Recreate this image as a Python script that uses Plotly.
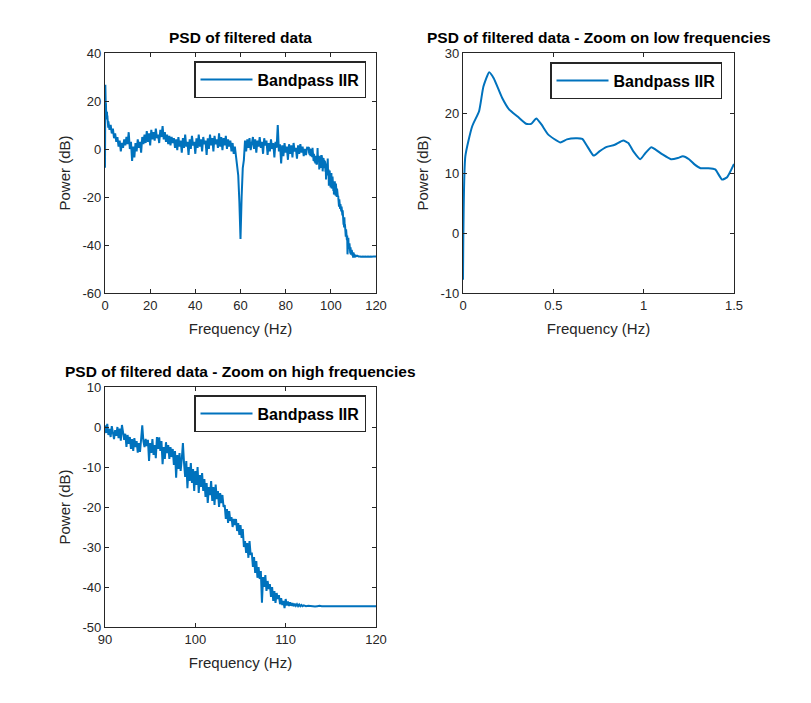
import numpy as np
import plotly.graph_objects as go

# PSD of the band-pass (IIR) filtered signal

# 0 - 1.5 Hz (fine resolution, used for the low-frequency zoom)
low_freq = [0.0, 0.013, 0.051, 0.089, 0.113, 0.145, 0.170, 0.217, 0.255, 0.302,
            0.349, 0.377, 0.406, 0.434, 0.472, 0.538, 0.575, 0.623, 0.660, 0.689,
            0.723, 0.755, 0.792, 0.840, 0.887, 0.915, 0.943, 0.981, 1.009, 1.042,
            1.066, 1.104, 1.151, 1.189, 1.217, 1.251, 1.283, 1.315, 1.358, 1.396,
            1.434, 1.462, 1.500]
low_power = [-7.8, 12.8, 17.8, 20.3, 24.4, 26.8, 25.8, 22.5, 20.6, 19.4,
             18.2, 18.2, 19.1, 18.1, 16.4, 15.1, 15.6, 15.8, 15.7, 14.4,
             12.9, 13.6, 14.3, 14.7, 15.4, 15.0, 13.6, 12.3, 13.3, 14.3,
             13.9, 13.1, 12.3, 12.5, 12.8, 12.3, 11.4, 10.8, 10.8, 10.6,
             8.9, 9.3, 11.5]

# 2 - 89.5 Hz, 0.5 Hz bins
mid_start, mid_step = 2.0, 0.5
mid_power = [
    8.0, 10.0, 6.5, 8.5, 4.5, 6.5, 3.0, 5.0, 1.0, 3.5,            # 2.0 - 6.5
    -1.0, 2.5, 0.5, 4.0, 1.5, 5.0, 2.0, 7.0, 0.0, 3.0,            # 7.0 - 11.5
    -5.0, 1.0, -3.5, 2.5, -1.0, 4.0, 0.5, 3.0, -1.5, 5.0,         # 12.0 - 16.5
    2.0, 6.0, 2.5, 7.5, 3.0, 6.5, 1.5, 8.0, 4.0, 7.0,             # 17.0 - 21.5
    3.5, 8.5, 4.5, 6.0, 2.5, 8.0, 5.0, 9.5, 4.0, 7.0,             # 22.0 - 26.5
    3.0, 6.0, 2.0, 5.5, 1.5, 5.0, 2.5, 4.5, 0.5, 4.0,             # 27.0 - 31.5
    -0.5, 5.0, 1.0, 3.5, -1.5, 4.5, 0.5, 6.0, 1.0, 3.0,           # 32.0 - 36.5
    -2.5, 4.0, 0.0, 5.5, 1.5, 3.0, -2.0, 4.5, 0.5, 6.0,           # 37.0 - 41.5
    1.0, 4.0, -1.0, 5.0, 2.0, 3.5, -2.5, 4.5, 0.0, 6.0,           # 42.0 - 46.5
    1.5, 4.5, -1.0, 5.5, 2.0, 4.0, 0.5, 6.5, 1.0, 5.0,            # 47.0 - 51.5
    -0.5, 4.5, 1.5, 5.5, 0.0, 4.0, 1.0, 3.5, -1.0, 2.5,           # 52.0 - 56.5
    -2.0, 1.0, -3.0, -6.0, -11.0, -22.0, -37.5, -20.0, -8.0, -4.5,  # 57.0 - 61.5
    3.5, -1.0, 4.0, 0.5, 4.5, -0.5, 3.0, 5.0, 0.0, 4.0,           # 62.0 - 66.5
    -1.5, 3.5, 1.0, 5.0, 0.5, 3.0, -2.0, 4.5, 1.5, 3.5,           # 67.0 - 71.5
    -2.5, 2.5, -1.0, 4.0, 0.0, 2.5, -3.5, 3.0, 0.5, 10.0,         # 72.0 - 76.5
    -1.0, 2.0, -6.0, 1.5, -3.0, 2.5, -1.5, 1.0, -4.5, 2.0,        # 77.0 - 81.5
    -2.0, 1.5, -3.5, 2.5, -1.0, 0.5, -4.0, 1.5, -2.0, 2.0,        # 82.0 - 86.5
    -1.5, 1.0, -3.0, 0.0, -2.5, 0.5,                              # 87.0 - 89.5
]

# 90 - 112 Hz, 0.125 Hz bins (one row per Hz)
high_start, high_step = 90.0, 0.125
high_power = [
    0.4, -1.5, 0.8, -2.0, -0.5, -2.5, 0.2, -1.2,            # 90
    -3.0, -0.8, -2.2, 0.0, -2.8, -0.4, -3.4, 0.5,           # 91
    -1.8, -3.2, -1.7, -5.0, -2.0, -4.2, -2.5, -5.5,         # 92
    -3.0, -6.0, -2.8, -5.0, -3.5, -6.4, -4.0, -6.2,         # 93
    -3.0, 0.4, -3.5, -5.0, -3.0, -4.8, -3.2, -8.5,          # 94
    -4.0, -6.5, -3.0, -7.0, -4.5, -7.8, -2.5, -5.5,         # 95
    -2.6, -6.0, -3.5, -9.3, -5.0, -8.0, -3.8, -6.5,         # 96
    -4.5, -8.0, -5.0, -7.5, -5.5, -9.5, -6.0, -12.7,        # 97
    -7.0, -10.5, -6.5, -11.0, -8.0, -4.0, -9.0, -12.5,      # 98
    -8.5, -15.3, -10.0, -13.5, -9.0, -14.0, -10.5, -16.0,   # 99
    -11.0, -14.5, -10.0, -16.5, -12.0, -15.0, -11.5, -16.0,  # 100
    -13.0, -17.5, -14.0, -19.0, -15.0, -17.0, -13.5, -18.5,  # 101
    -15.0, -19.5, -14.4, -18.0, -16.0, -20.0, -16.5, -19.0,  # 102
    -17.0, -20.0, -19.5, -23.0, -20.5, -24.0, -21.0, -23.5,  # 103
    -22.5, -25.0, -23.0, -24.5, -23.0, -26.0, -24.0, -27.0,  # 104
    -24.5, -27.7, -25.5, -30.0, -28.5, -31.5, -29.0, -32.7,  # 105
    -28.5, -32.0, -31.4, -35.0, -32.5, -36.5, -33.5, -37.7,  # 106
    -35.0, -38.0, -36.0, -43.9, -37.5, -40.0, -37.0, -41.0,  # 107
    -38.5, -40.5, -39.3, -42.5, -40.0, -43.5, -41.0, -44.0,  # 108
    -41.5, -43.0, -42.0, -44.3, -42.8, -44.5, -43.5, -45.3,  # 109
    -43.0, -44.6, -43.6, -44.75, -43.8, -44.7, -44.0, -44.8,  # 110
    -44.2, -44.7, -44.3, -44.8, -44.4, -44.8, -44.5, -44.8,  # 111
    -44.6,                                                   # 112
]

# 112.25 - 120 Hz, 0.25 Hz bins (stop band floor)
tail_start, tail_step = 112.25, 0.25
tail_power = [
    -44.8, -44.7, -44.8, -44.8, -44.9, -44.8, -44.7, -44.8,
    -44.8, -44.9, -44.8, -44.8, -44.8, -44.9, -44.8, -44.8,
    -44.8, -44.8, -44.9, -44.8, -44.8, -44.8, -44.8, -44.9,
    -44.8, -44.8, -44.8, -44.8, -44.8, -44.9, -44.8, -44.8,
]

mid_freq = mid_start + mid_step * np.arange(len(mid_power))
high_freq = np.concatenate([high_start + high_step * np.arange(len(high_power)),
                            tail_start + tail_step * np.arange(len(tail_power))])
high_power = high_power + tail_power

full_freq = np.concatenate([low_freq, mid_freq, high_freq])
full_power = np.concatenate([low_power, mid_power, high_power])

# ticks
ticks_full_x = [0, 20, 40, 60, 80, 100, 120]
ticks_full_y = [-60, -40, -20, 0, 20, 40]
ticks_low_x = [0, 0.5, 1, 1.5]
ticks_low_y = [-10, 0, 10, 20, 30]
ticks_high_x = [90, 100, 110, 120]
ticks_high_y = [-50, -40, -30, -20, -10, 0, 10]

blue = '#0072BD'
dark = '#262626'
font_family = 'Arial, Liberation Sans, Helvetica, sans-serif'

W, H = 811, 703
OFF = 8  # page body margin of the html output


def px_x(p):
    return (p - OFF) / W


def px_y(p):
    return 1 - (p - OFF) / H


fig = go.Figure()
fig.add_trace(go.Scatter(x=full_freq, y=full_power, mode='lines', name='Bandpass IIR',
                         line=dict(color=blue, width=2), xaxis='x', yaxis='y', legend='legend'))
fig.add_trace(go.Scatter(x=low_freq, y=low_power, mode='lines', name='Bandpass IIR',
                         line=dict(color=blue, width=2, shape='spline', smoothing=0.5),
                         xaxis='x2', yaxis='y2', legend='legend2'))
fig.add_trace(go.Scatter(x=high_freq, y=high_power, mode='lines', name='Bandpass IIR',
                         line=dict(color=blue, width=2), xaxis='x3', yaxis='y3', legend='legend3'))

dom_x_left = [px_x(105), px_x(376)]
dom_x_right = [px_x(463), px_x(734)]
dom_y_top = [px_y(293), px_y(53)]
dom_y_bottom = [px_y(627), px_y(387)]


def axis(domain, anchor, rng, ticks, title, standoff):
    return dict(domain=domain, anchor=anchor, range=rng, tickvals=ticks,
                ticktext=[str(t) for t in ticks], showgrid=False, zeroline=False,
                showline=True, linecolor=dark, linewidth=1.3, mirror='ticks',
                ticks='inside', ticklen=4, tickwidth=1.3, tickcolor=dark,
                tickfont=dict(size=13, color=dark, family=font_family),
                title=dict(text=title, font=dict(size=15, color=dark, family=font_family),
                           standoff=standoff),
                automargin=False)


legend_style = dict(font=dict(size=16, color='black', family=font_family, weight='bold'),
                    bgcolor='white', bordercolor=dark, borderwidth=1.5,
                    xanchor='right', yanchor='top', itemwidth=52,
                    entrywidth=123, entrywidthmode='pixels')

fig.update_layout(
    width=W, height=H,
    paper_bgcolor='white', plot_bgcolor='white',
    margin=dict(l=0, r=0, t=0, b=0),
    showlegend=True,
    xaxis=axis(dom_x_left, 'y', [0, 120], ticks_full_x, 'Frequency (Hz)', 11),
    yaxis=axis(dom_y_top, 'x', [-60, 40], ticks_full_y, 'Power (dB)', 8),
    xaxis2=axis(dom_x_right, 'y2', [0, 1.5], ticks_low_x, 'Frequency (Hz)', 11),
    yaxis2=axis(dom_y_top, 'x2', [-10, 30], ticks_low_y, 'Power (dB)', 8),
    xaxis3=axis(dom_x_left, 'y3', [90, 120], ticks_high_x, 'Frequency (Hz)', 11),
    yaxis3=axis(dom_y_bottom, 'x3', [-50, 10], ticks_high_y, 'Power (dB)', 8),
    legend=dict(x=px_x(366), y=px_y(61), **legend_style),
    legend2=dict(x=px_x(722), y=px_y(62), **legend_style),
    legend3=dict(x=px_x(366), y=px_y(395), **legend_style),
)

titles = [
    ('PSD of filtered data', sum(dom_x_left) / 2, dom_y_top[1]),
    ('PSD of filtered data - Zoom on low frequencies', sum(dom_x_right) / 2, dom_y_top[1]),
    ('PSD of filtered data - Zoom on high frequencies', sum(dom_x_left) / 2, dom_y_bottom[1]),
]
for text, x, y in titles:
    fig.add_annotation(text='<b>%s</b>' % text, x=x, y=y, xref='paper', yref='paper',
                       xanchor='center', yanchor='bottom', yshift=5, showarrow=False,
                       font=dict(size=15.5, color='black', family=font_family))

fig.write_html("out.html")
